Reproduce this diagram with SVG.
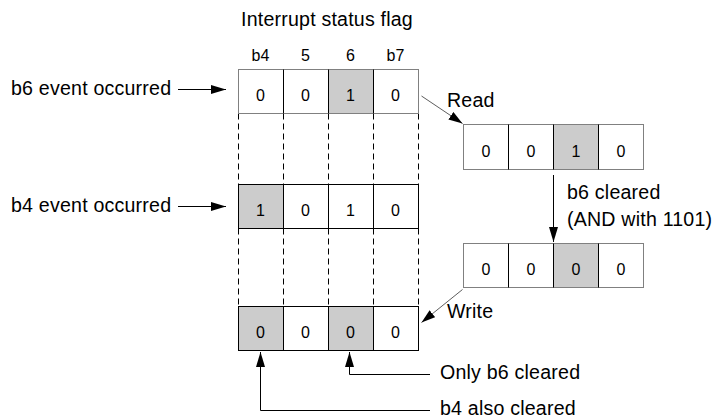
<svg xmlns="http://www.w3.org/2000/svg" width="717" height="419" viewBox="0 0 717 419">
<defs>
<style>
.lbl{font-family:"Liberation Sans",Arial,sans-serif;font-size:19.6px;letter-spacing:0.2px;fill:#000}
.hdr{font-family:"Liberation Sans",Arial,sans-serif;font-size:16px;fill:#000;text-anchor:middle}
.dig{font-family:"Liberation Sans",Arial,sans-serif;font-size:16px;fill:#000;text-anchor:middle}
.frame{fill:#fff;stroke:#808080;stroke-width:1}
.hl{fill:#cccccc;stroke:none}
.div{stroke:#000;stroke-width:1;fill:none}
.dash{stroke:#000;stroke-width:1;stroke-dasharray:6,4;fill:none}
.conn{stroke:#000;stroke-width:1;fill:none}
.thin{stroke:#333;stroke-width:0.8;fill:none}
</style>
<marker id="ah" markerUnits="userSpaceOnUse" markerWidth="16" markerHeight="10" refX="15" refY="4.5" orient="auto">
<path d="M0,0 L15,4.5 L0,9 z" fill="#000"/>
</marker>
<marker id="ah2" markerUnits="userSpaceOnUse" markerWidth="16" markerHeight="10" refX="14" refY="4.5" orient="auto">
<path d="M0,0 L14,4.5 L0,9 z" fill="#000"/>
</marker>
</defs>

<g id="title"><text class="lbl" x="241" y="26">Interrupt status flag</text></g>

<g id="headers">
<text class="hdr" x="260.5" y="61">b4</text>
<text class="hdr" x="305.5" y="61">5</text>
<text class="hdr" x="350.5" y="61">6</text>
<text class="hdr" x="395.5" y="61">b7</text>
</g>

<g id="dashes">
<path class="dash" d="M238.5,113.5V184.5M283.5,113.5V184.5M328.5,113.5V184.5M373.5,113.5V184.5M418.5,113.5V184.5"/>
<path class="dash" d="M238.5,228.5V306.5M283.5,228.5V306.5M328.5,228.5V306.5M373.5,228.5V306.5M418.5,228.5V306.5"/>
</g>

<g id="reg-b6-event">
<rect class="frame" x="238.5" y="69.5" width="180" height="44"/>
<rect class="hl" x="328.5" y="69.5" width="45" height="44"/>
<rect x="238.5" y="69.5" width="180" height="44" fill="none" stroke="#808080"/>
<path class="div" d="M283.5,69.5V113.5M328.5,69.5V113.5M373.5,69.5V113.5"/>
<text class="dig" x="260.5" y="101">0</text>
<text class="dig" x="305.5" y="101">0</text>
<text class="dig" x="350.5" y="101">1</text>
<text class="dig" x="395.5" y="101">0</text>
</g>

<g id="reg-b4-event">
<rect class="frame" x="238.5" y="184.5" width="180" height="44"/>
<rect class="hl" x="238.5" y="184.5" width="45" height="44"/>
<rect x="238.5" y="184.5" width="180" height="44" fill="none" stroke="#000"/>
<path class="div" d="M283.5,184.5V228.5M328.5,184.5V228.5M373.5,184.5V228.5"/>
<text class="dig" x="260.5" y="216">1</text>
<text class="dig" x="305.5" y="216">0</text>
<text class="dig" x="350.5" y="216">1</text>
<text class="dig" x="395.5" y="216">0</text>
</g>

<g id="reg-result">
<rect class="frame" x="238.5" y="306.5" width="180" height="44"/>
<rect class="hl" x="238.5" y="306.5" width="45" height="44"/>
<rect class="hl" x="328.5" y="306.5" width="45" height="44"/>
<rect x="238.5" y="306.5" width="180" height="44" fill="none" stroke="#000"/>
<path class="div" d="M283.5,306.5V350.5M328.5,306.5V350.5M373.5,306.5V350.5"/>
<text class="dig" x="260.5" y="338">0</text>
<text class="dig" x="305.5" y="338">0</text>
<text class="dig" x="350.5" y="338">0</text>
<text class="dig" x="395.5" y="338">0</text>
</g>

<g id="reg-read">
<rect class="frame" x="463.5" y="124.5" width="180" height="45"/>
<rect class="hl" x="553.5" y="124.5" width="45" height="45"/>
<rect x="463.5" y="124.5" width="180" height="45" fill="none" stroke="#808080"/>
<path class="div" d="M508.5,124.5V169.5M553.5,124.5V169.5M598.5,124.5V169.5"/>
<text class="dig" x="486" y="157">0</text>
<text class="dig" x="531" y="157">0</text>
<text class="dig" x="576" y="157">1</text>
<text class="dig" x="621" y="157">0</text>
</g>

<g id="reg-and">
<rect class="frame" x="463.5" y="243.5" width="180" height="44"/>
<rect class="hl" x="553.5" y="243.5" width="45" height="44"/>
<rect x="463.5" y="243.5" width="180" height="44" fill="none" stroke="#808080"/>
<path class="div" d="M508.5,243.5V287.5M553.5,243.5V287.5M598.5,243.5V287.5"/>
<text class="dig" x="486" y="275">0</text>
<text class="dig" x="531" y="275">0</text>
<text class="dig" x="576" y="275">0</text>
<text class="dig" x="621" y="275">0</text>
</g>

<g id="labels">
<text class="lbl" x="11" y="95">b6 event occurred</text>
<text class="lbl" x="11" y="212">b4 event occurred</text>
<text class="lbl" x="447" y="107">Read</text>
<text class="lbl" x="567" y="199">b6 cleared</text>
<text class="lbl" x="567" y="226">(AND with 1101)</text>
<text class="lbl" x="447" y="318">Write</text>
<text class="lbl" x="440" y="379">Only b6 cleared</text>
<text class="lbl" x="440" y="415">b4 also cleared</text>
</g>

<g id="connectors">
<path class="conn" d="M178,89.5H226" marker-end="url(#ah)"/>
<path class="conn" d="M178,206.5H226" marker-end="url(#ah)"/>
<path class="thin" d="M421.5,96L462.5,123.5" marker-end="url(#ah2)"/>
<path class="conn" d="M553.5,175V242" marker-end="url(#ah)"/>
<path class="thin" d="M462.5,289.5L421.5,322.5" marker-end="url(#ah2)"/>
<path class="conn" d="M430,374.5H349.5V352" marker-end="url(#ah)"/>
<path class="conn" d="M430,410.5H260.5V352" marker-end="url(#ah)"/>
</g>
</svg>
